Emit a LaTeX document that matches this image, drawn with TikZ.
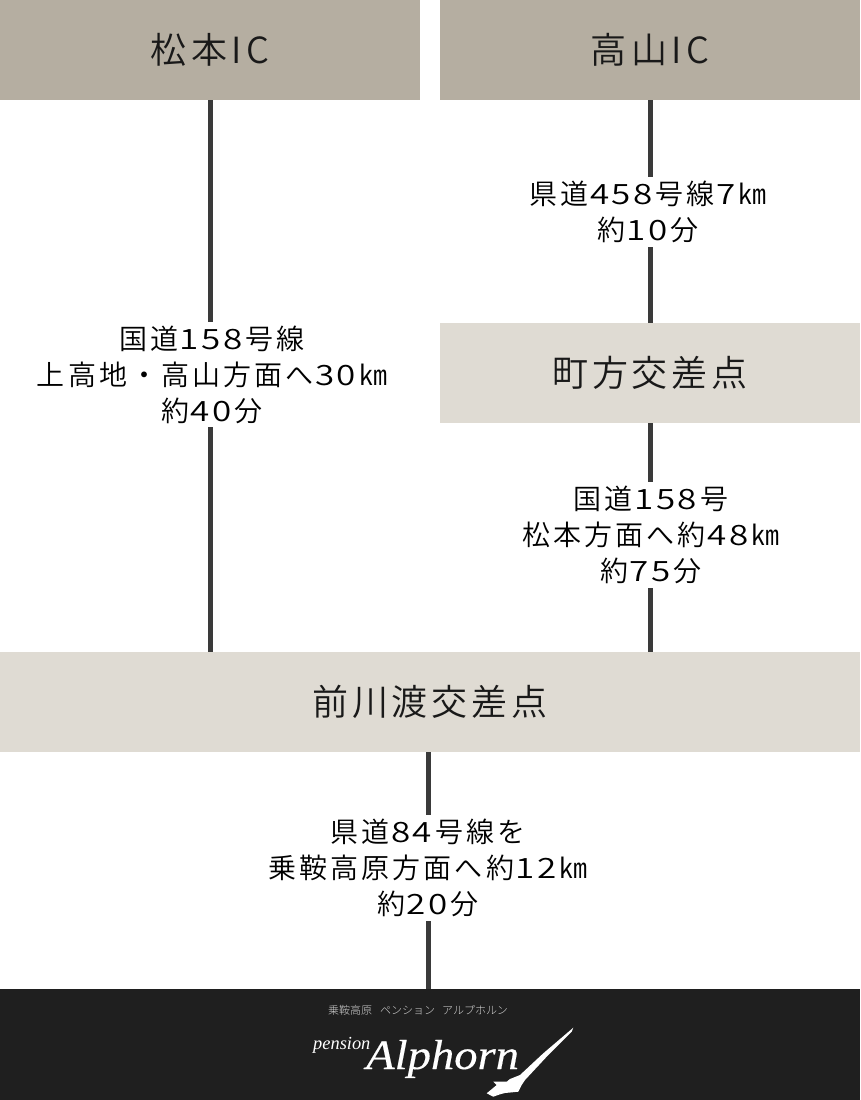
\documentclass[tikz,border=0pt]{standalone}
\usepackage{fontspec}
\setmainfont{Noto Sans CJK JP Light}
\newfontfamily\labelfont[LetterSpace=11]{Noto Sans CJK JP DemiLight}
\newfontfamily\digitfont[FakeStretch=1.25,LetterSpace=9]{Noto Sans CJK JP DemiLight}
\newfontfamily\headfont[LetterSpace=12]{Noto Sans CJK JP DemiLight}
\newfontfamily\crossfont[LetterSpace=11]{Noto Sans CJK JP DemiLight}
\newfontfamily\logofont[FakeStretch=1.11,FakeBold=0.35]{Liberation Serif}
\newfontfamily\penfont{Liberation Serif}
\newcommand{\dg}[1]{\kern1.5pt{\digitfont #1}\kern3pt}
\definecolor{headbox}{HTML}{B5AEA1}
\definecolor{crossbox}{HTML}{DFDBD3}
\definecolor{footbox}{HTML}{1F1F1F}
\definecolor{road}{HTML}{3A3A3A}
\tikzset{
  head/.style={fill=headbox,minimum width=420pt,minimum height=100pt,inner sep=0pt,text=black!90,font=\headfont\fontsize{36}{36}\selectfont},
  cross/.style={fill=crossbox,minimum height=100pt,inner sep=0pt,text=black!90,font=\crossfont\fontsize{36}{36}\selectfont},
  roadlabel/.style={fill=white,align=center,inner xsep=4pt,inner ysep=4pt,text=black,font=\labelfont\fontsize{28}{36}\selectfont},
  roadline/.style={draw=road,line width=5pt},
}
\begin{document}
\begin{tikzpicture}[x=1pt,y=-1pt]
\useasboundingbox (0,0) rectangle (860,1100);
\node[head] (matsumoto) at (210,50) {松本IC};
\node[head] (takayama) at (650,50) {高山IC};
\node[cross,minimum width=420pt] (machikata) at (650,373) {町方交差点};
\node[cross,minimum width=860pt] (maekawado) at (430,702) {前川渡交差点};
\node[fill=footbox,minimum width=860pt,minimum height=111pt,inner sep=0pt] (foot) at (430,1044.5) {};
\coordinate (lastx) at (428,800);
\draw[roadline] (matsumoto.south) -- (matsumoto.south |- maekawado.north);
\draw[roadline] (takayama.south) -- (machikata.north);
\draw[roadline] (machikata.south) -- (machikata.south |- maekawado.north);
\draw[roadline] (lastx |- maekawado.south) -- (lastx |- foot.north);
\node[roadlabel] (l1) at (212,374.5) {国道\dg{158}号線\\上高地・高山方面へ\dg{30}㎞\\約\dg{40}分};
\node[roadlabel] (l2) at (648,212) {県道\dg{458}号線\dg{7}㎞\\約\dg{10}分};
\node[roadlabel] (l3) at (651,535) {国道\dg{158}号\\松本方面へ約\dg{48}㎞\\約\dg{75}分};
\node[roadlabel] (l4) at (428,868) {県道\dg{84}号線を\\乗鞍高原方面へ約\dg{12}㎞\\約\dg{20}分};
\node[text=black!18,inner sep=0pt,font=\fontsize{11}{12}\selectfont] (sub) at (418,1010) {乗鞍高原\hspace{8pt}ペンション\hspace{7pt}アルプホルン};
\node[text=white,inner sep=0pt,anchor=base west,font=\penfont\itshape\fontsize{18.4}{20}\selectfont] (pension) at (313,1049) {pension};
\node[text=white,inner sep=0pt,anchor=base west,font=\logofont\itshape\fontsize{42}{42}\selectfont] (alphorn) at (366,1069) {Alphorn};
\fill[white] (573.3,1027.7) -- (571.7,1031.7) -- (546.7,1056.7) -- (525,1080) -- (521.7,1085) -- (518.3,1091.7) -- (505,1093) -- (500,1094.3) -- (493.3,1096.7) -- (486.7,1093.3) -- (496.7,1085) -- (493.3,1081.7) -- (506.7,1081.7) -- (510,1079) -- (520,1075) -- (543.3,1053.3) -- cycle;
\end{tikzpicture}
\end{document}
